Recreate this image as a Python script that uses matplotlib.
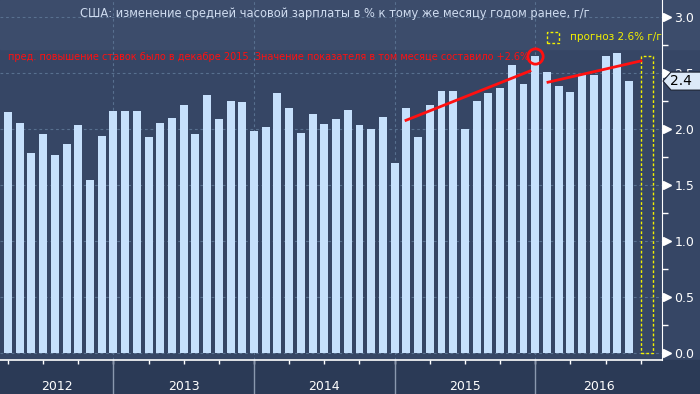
import numpy as np
import matplotlib
matplotlib.use('Agg')
import matplotlib.pyplot as plt
from matplotlib.patches import Rectangle, Polygon

plt.rcParams['font.family'] = ['DejaVu Sans']

# номер месяца от января 2012 (0 = янв 2012), фев 2012 .. авг 2016
months = np.arange(1, 56)
wages = [1.80,
         2.15, 2.06, 1.79, 1.96, 1.77, 1.87, 2.04, 1.55, 1.94, 2.16,
         2.16, 2.16, 1.93, 2.06, 2.10, 2.22, 1.96, 2.31, 2.09, 2.25, 2.24, 1.98,
         2.02, 2.32, 2.19, 1.97, 2.14, 2.05, 2.09, 2.17, 2.04, 2.00, 2.11, 1.70,
         2.19, 1.93, 2.22, 2.34, 2.34, 2.00, 2.25, 2.32, 2.37, 2.57, 2.40, 2.65,
         2.51, 2.39, 2.33, 2.49, 2.48, 2.65, 2.68, 2.43]
forecast_month = 56
forecast_val = 2.65
hike_month = 47   # декабрь 2015

year_names = ['2012', '2013', '2014', '2015', '2016']
year_bounds = [11, 23, 35, 47]
yticks = [0.0, 0.5, 1.0, 1.5, 2.0, 2.5, 3.0]

# красные линии тренда (месяц, значение)
trend1 = ([35.97, 46.55], [2.08, 2.52])
trend2 = ([48.09, 56.02], [2.42, 2.61])

W, H = 700, 394
bg = '#364665'
bg_top = '#3c4c6b'
bg_bottom = '#2b3a56'
bar_col = '#c6e0fc'
grid_col = '#58708f'

def px(x, y):
    return x / W, 1 - y / H

fig = plt.figure(figsize=(7, 3.94), dpi=100, facecolor=bg)
fig.patches.append(Rectangle(px(0, 49), 1, 49 / H, transform=fig.transFigure,
                             color=bg_top, zorder=-2))
fig.patches.append(Rectangle((0, 0), 1, 34 / H, transform=fig.transFigure,
                             color=bg_bottom, zorder=-2))

ax = fig.add_axes([0, 34 / H, 662 / W, 360 / H])
ax.set_facecolor('none')

ax.bar(months, wages, width=0.68, color=bar_col, zorder=2)

ax.set_xlim(1.317, 57.82)
ax.set_ylim(-0.06, 3.154)

for y in yticks:
    ax.axhline(y, color=grid_col, lw=0.8, ls=(0, (2.5, 2.5)), zorder=1)
for x in year_bounds:
    ax.axvline(x, color=grid_col, lw=0.8, ls=(0, (2.5, 2.5)), zorder=1)
    ax.plot([x, x], [0, -34 / 360], color='#8a98ae', lw=1,
            transform=ax.get_xaxis_transform(), clip_on=False)

edges = [ax.get_xlim()[0]] + year_bounds + [ax.get_xlim()[1]]
for name, a, b in zip(year_names, edges[:-1], edges[1:]):
    ax.text((a + b) / 2, -26 / 360, name, color='white', fontsize=9,
            ha='center', va='center', transform=ax.get_xaxis_transform())

for s in ['left', 'top']:
    ax.spines[s].set_visible(False)
ax.spines['right'].set_color('white')
ax.spines['bottom'].set_color('white')
ax.spines['bottom'].set_linewidth(1.2)

ax.set_xticks([])
ax.set_xticks(np.arange(2, 57, 3), minor=True)
ax.tick_params(axis='x', which='minor', length=3, color='white', width=1)

ax.yaxis.tick_right()
ax.set_yticks(yticks)
ax.set_yticklabels([f'{v:.1f}' for v in yticks])
ax.set_yticks(np.arange(0.25, 3.0, 0.5), minor=True)
ax.tick_params(axis='y', which='major', length=0, pad=9, labelcolor='white',
               labelsize=9)
ax.tick_params(axis='y', which='minor', length=4, color='white', width=1)
ax.plot(np.full(len(yticks), 1.008), yticks, marker='>', ls='none',
        color='white', ms=6, transform=ax.get_yaxis_transform(), clip_on=False)

# прогноз
ax.add_patch(Rectangle((forecast_month + 0.02, 0), 1.03, forecast_val,
                       fill=False, ec='#f2f000', lw=1, ls=(0, (2, 1.5)), zorder=3))

# аннотации
ax.plot(*trend1, color='#ff1010', lw=2, zorder=4)
ax.plot(*trend2, color='#ff1010', lw=2, zorder=4)
ax.plot(hike_month, wages[hike_month - 1], 'o', mfc='none', mec='#ff1010',
        ms=11, mew=2, zorder=4)

fig.text(*px(335, 14), 'США: изменение средней часовой зарплаты в % к тому же месяцу годом ранее, г/г',
         color='#cfdcf0', fontsize=8.3, ha='center', va='center')
fig.text(*px(8, 57), 'пред. повышение ставок было в декабре 2015. Значение показателя в том месяце составило +2.6%',
         color='#ff1010', fontsize=7, ha='left', va='center')

# легенда прогноза
fig.patches.append(Rectangle(px(547, 43), 12 / W, 11 / H, transform=fig.transFigure,
                             fill=False, ec='#f2f000', lw=1, ls=(0, (2, 1.5))))
fig.text(*px(570, 37.5), 'прогноз 2.6% г/г', color='#f2f000', fontsize=7.5,
         ha='left', va='center')

# метка последнего значения
yp = H - ax.transData.transform((0, wages[-1]))[1]
poly = [px(663, yp), px(671, yp - 9), px(701, yp - 9), px(701, yp + 9), px(671, yp + 9)]
fig.patches.append(Polygon(poly, closed=True, transform=fig.transFigure,
                           fc='#dce9f8', ec='#1a2030', lw=0.8, zorder=5))
fig.text(*px(681, yp), f'{wages[-1]:.1f}', color='black', fontsize=10,
         ha='center', va='center', zorder=6)

fig.savefig('out.png', dpi=100, facecolor=fig.get_facecolor())
